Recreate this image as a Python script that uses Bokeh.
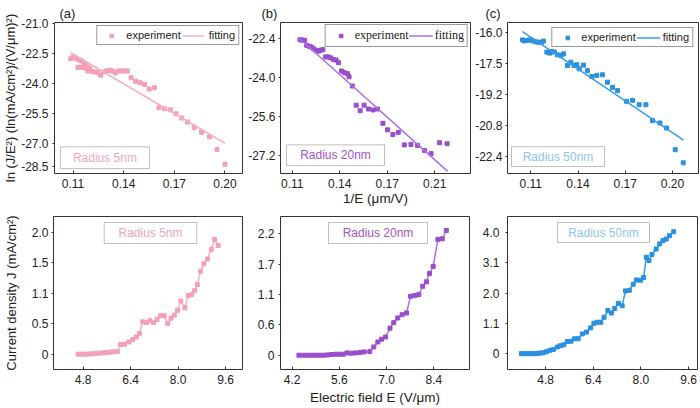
from bokeh.plotting import figure
from bokeh.layouts import row, column
from bokeh.models import (FixedTicker, BoxAnnotation, Label, Range1d, Legend,
                          LegendItem, CustomJSTickFormatter)
from bokeh.embed import file_html
from bokeh.resources import INLINE

# ---------------- data ----------------
# (a) Radius 5nm : ln(J/E^2) vs 1/E
a_inv_e = [0.1086, 0.1100, 0.1112, 0.1123, 0.1135, 0.1148, 0.1164, 0.1179,
           0.1129, 0.1145, 0.1160, 0.1174, 0.1187, 0.1199, 0.1212, 0.1228, 0.1245, 0.1264,
           0.1280, 0.1299, 0.1315, 0.1332, 0.1352, 0.1367, 0.1386, 0.1406, 0.1421,
           0.1444, 0.1470, 0.1497, 0.1524, 0.1551, 0.1582,
           0.1609, 0.1642, 0.1677, 0.1710, 0.1744, 0.1779, 0.1818, 0.1861, 0.1909, 0.1953, 0.2000]
a_ln = [-22.78, -22.70, -22.73, -22.78, -22.83, -22.88, -22.99, -23.08,
        -23.21, -23.21, -23.21, -23.24, -23.39, -23.24, -23.41, -23.44, -23.47, -23.60,
        -23.44, -23.39, -23.36, -23.39, -23.49, -23.39, -23.39, -23.39, -23.39,
        -23.73, -23.90, -23.98, -24.06, -24.29, -24.23,
        -25.22, -25.28, -25.33, -25.53, -25.74, -25.94, -26.21, -26.45, -26.68, -27.31, -28.05]
a_fit_x = [0.1086, 0.2000]
a_fit_y = [-22.48, -27.00]

# (b) Radius 20nm
b_inv_e = [0.1149, 0.1163, 0.1178, 0.1191, 0.1208, 0.1223, 0.1237, 0.1252, 0.1267, 0.1280,
           0.1294, 0.1311, 0.1328, 0.1343, 0.1360, 0.1377, 0.1392, 0.1411, 0.1430, 0.1449,
           0.1459, 0.1480, 0.1504, 0.1529, 0.1554, 0.1582, 0.1611, 0.1639, 0.1673, 0.1702,
           0.1736, 0.1770, 0.1808, 0.1850, 0.1892, 0.1935, 0.1977, 0.2030, 0.2078]
b_ln = [-22.43, -22.45, -22.45, -22.66, -22.70, -22.74, -22.81, -22.88, -22.90, -22.86,
        -22.84, -23.14, -23.14, -23.18, -23.25, -23.27, -23.38, -23.72, -23.79, -23.83,
        -23.96, -24.34, -25.13, -25.36, -25.13, -25.29, -25.33, -25.29, -25.88, -26.15,
        -26.34, -26.25, -26.77, -26.75, -26.79, -27.00, -27.13, -26.68, -26.72]
b_fit_x = [0.1142, 0.2082]
b_fit_y = [-22.36, -27.86]

# (c) Radius 50nm
c_inv_e = [0.1047, 0.1060, 0.1072, 0.1087, 0.1100, 0.1115, 0.1132, 0.1149, 0.1166, 0.1180,
           0.1202, 0.1219, 0.1233, 0.1250, 0.1269, 0.1291, 0.1308,
           0.1333, 0.1354, 0.1375, 0.1392, 0.1407, 0.1435, 0.1460, 0.1488, 0.1519, 0.1555,
           0.1587, 0.1619, 0.1651,
           0.1708, 0.1746, 0.1788, 0.1831, 0.1873, 0.1920, 0.1962, 0.2017, 0.2068]
c_ln = [-16.40, -16.45, -16.43, -16.41, -16.40, -16.45, -16.50, -16.52, -16.53, -16.46,
        -17.03, -17.08, -17.00, -17.03, -17.17, -17.20, -17.12,
        -17.72, -17.55, -17.72, -17.68, -17.89, -17.70, -17.99, -18.29, -18.23, -18.20,
        -18.58, -18.85, -19.02,
        -19.57, -19.52, -19.75, -19.75, -20.57, -20.69, -20.95, -22.07, -22.75]
c_fit_x = [0.1047, 0.2070]
c_fit_y = [-15.97, -21.58]

# (d) J vs E, Radius 5nm
d_e = [4.63, 4.76, 4.89, 5.02, 5.15, 5.28, 5.41, 5.54, 5.67, 5.80, 5.95,
       6.06, 6.195, 6.34, 6.47, 6.59, 6.70, 6.81, 6.94, 7.05, 7.17, 7.29, 7.40, 7.53,
       7.65, 7.76, 7.87, 7.98,
       8.09, 8.23, 8.34, 8.46, 8.56, 8.65, 8.76, 8.87, 8.99, 9.12, 9.23, 9.35]
d_j = [0.0, 0.0, 0.0, 0.005, 0.01, 0.015, 0.02, 0.025, 0.03, 0.038, 0.045,
       0.158, 0.163, 0.20, 0.24, 0.28, 0.34, 0.53, 0.52, 0.55, 0.52, 0.57, 0.63, 0.63,
       0.50, 0.59, 0.64, 0.72,
       0.87, 0.76, 0.96, 0.98, 1.04, 1.14, 1.36, 1.48, 1.56, 1.72, 1.88, 1.78]

# (e) Radius 20nm
e_e = [4.40, 4.53, 4.645, 4.77, 4.90, 5.02, 5.14,
       5.26, 5.37, 5.49, 5.60, 5.71, 5.83, 5.95, 6.08, 6.21, 6.33, 6.50,
       6.62, 6.74, 6.85, 6.97, 7.10, 7.21, 7.33, 7.46, 7.59,
       7.71, 7.84, 7.955, 8.07, 8.18, 8.27, 8.38, 8.52, 8.65, 8.77]
e_j = [0, 0, 0, 0, 0, 0, 0,
       0.006, 0.012, 0.018, 0.018, 0.018, 0.042, 0.036, 0.042, 0.048, 0.06, 0.066,
       0.15, 0.24, 0.29, 0.33, 0.49, 0.59, 0.675, 0.735, 0.765,
       1.07, 1.085, 1.10, 1.25, 1.33, 1.48, 1.61, 2.10, 2.11, 2.26]

# (f) Radius 50nm
f_e = [3.985, 4.075, 4.164, 4.253, 4.342, 4.43,
       4.543, 4.633, 4.72, 4.83, 4.945,
       5.057, 5.19, 5.30, 5.41, 5.525, 5.65, 5.77, 5.89,
       6.03, 6.17, 6.31, 6.42, 6.53, 6.65, 6.76, 6.89,
       7.01, 7.12, 7.24, 7.37, 7.48, 7.61, 7.74, 7.85, 7.98,
       8.09, 8.18, 8.27, 8.37, 8.51, 8.63, 8.74, 8.85, 8.96, 9.10]
f_j = [0, 0, 0, 0, 0, 0,
       0.01, 0.02, 0.03, 0.065, 0.11,
       0.14, 0.22, 0.26, 0.29, 0.40, 0.41, 0.49, 0.49,
       0.65, 0.71, 0.85, 1.00, 1.035, 1.035, 1.20, 1.42,
       1.34, 1.49, 1.66, 1.58, 2.07, 2.09, 2.29, 2.43, 2.42,
       2.51, 3.18, 3.07, 3.27, 3.45, 3.62, 3.73, 3.78, 3.89, 4.02]

# tick positions and printed labels
a_xticks, a_xlabels = [0.11, 0.14, 0.17, 0.20], ["0.11", "0.14", "0.17", "0.20"]
a_yticks, a_ylabels = [-21.0, -22.5, -24.0, -25.5, -27.0, -28.15], ["-21.0", "-22.5", "-24.0", "-25.5", "-27.0", "-28.5"]
b_xticks, b_xlabels = [0.11, 0.14, 0.17, 0.20], ["0.11", "0.14", "0.17", "0.21"]
b_yticks, b_ylabels = [-22.4, -24.0, -25.6, -27.2], ["-22.4", "-24.0", "-25.6", "-27.2"]
c_xticks, c_xlabels = [0.11, 0.14, 0.17, 0.20], ["0.11", "0.14", "0.17", "0.20"]
c_yticks, c_ylabels = [-16.0, -17.6, -19.2, -20.8, -22.4], ["-16.0", "-17.5", "-19.2", "-20.8", "-22.4"]
d_xticks, d_xlabels = [4.8, 6.4, 8.0, 9.6], ["4.8", "6.4", "8.0", "9.6"]
d_yticks, d_ylabels = [0.0, 0.5, 1.0, 1.5, 2.0], ["0", "0.5", "1.1", "1.5", "2.0"]
e_xticks, e_xlabels = [4.2, 5.6, 7.0, 8.4], ["4.2", "5.6", "7.0", "8.4"]
e_yticks, e_ylabels = [0.0, 0.55, 1.1, 1.65, 2.2], ["0", "0.6", "1.1", "1.7", "2.2"]
f_xticks, f_xlabels = [4.8, 6.4, 8.0, 9.6], ["4.8", "6.4", "8.0", "9.6"]
f_yticks, f_ylabels = [0.0, 1.0, 2.0, 3.0, 4.0], ["0", "1.1", "2.0", "3.1", "4.0"]

radius_labels = ["Radius 5nm", "Radius 20nm", "Radius 50nm"]

# ---------------- styling ----------------
FONT = "Liberation Sans"
SERIF = "Liberation Serif"
INK = "#333333"
PINK_M, PINK_L, PINK_T = "#F4A0B6", "#F6B2C3", "#F2A5BA"
PURP_M, PURP_L, PURP_T = "#9A4ECC", "#B06FE6", "#A452D0"
BLUE_M, BLUE_L, BLUE_T = "#2A90E0", "#3C9BE6", "#8EC5F2"


def fmt(vals, labs):
    return CustomJSTickFormatter(args=dict(vals=list(vals), labs=list(labs)), code="""
        for (let i = 0; i < vals.length; i++) {
            if (Math.abs(tick - vals[i]) < 1e-9) { return labs[i]; }
        }
        return String(tick);
    """)


def make_fig(size, borders, xr, yr, xt, xl, yt, yl, ystand=3):
    w, h = size
    bl, br, bt, bb = borders
    p = figure(width=w, height=h, output_backend="svg", toolbar_location=None,
               x_range=Range1d(*xr), y_range=Range1d(*yr),
               min_border_left=bl, min_border_right=br,
               min_border_top=bt, min_border_bottom=bb,
               background_fill_color="white", border_fill_color="white")
    p.outline_line_color = INK
    p.outline_line_width = 1
    p.xgrid.visible = False
    p.ygrid.visible = False
    for ax in (p.xaxis[0], p.yaxis[0]):
        ax.axis_line_color = None
        ax.major_tick_line_color = INK
        ax.minor_tick_line_color = None
        ax.major_label_text_font = FONT
        ax.major_label_text_font_size = "12px"
        ax.major_label_text_color = "#222222"
        ax.axis_label_text_font = FONT
        ax.axis_label_text_font_style = "normal"
        ax.axis_label_text_font_size = "13px"
        ax.axis_label_text_color = "#222222"
    xa, ya = p.xaxis[0], p.yaxis[0]
    xa.ticker = FixedTicker(ticks=xt)
    xa.formatter = fmt(xt, xl)
    xa.major_tick_in = 3
    xa.major_tick_out = 0
    xa.major_label_standoff = 5
    ya.ticker = FixedTicker(ticks=yt)
    ya.formatter = fmt(yt, yl)
    ya.major_tick_in = 0
    ya.major_tick_out = 2
    ya.major_label_standoff = ystand
    return p


def frame_box(p, size, borders, box, text, color):
    w, h = size
    bl, br, bt, bb = borders
    W, H = w - bl - br, h - bt - bb
    xr = (p.x_range.start, p.x_range.end)
    yr = (p.y_range.start, p.y_range.end)
    l, r, t, b = box
    X = lambda px: xr[0] + (xr[1] - xr[0]) * px / W
    Y = lambda py: yr[1] - (yr[1] - yr[0]) * py / H
    p.add_layout(BoxAnnotation(left=X(l), right=X(r), top=Y(t), bottom=Y(b),
                               fill_color="white", fill_alpha=1.0,
                               line_color=INK, line_width=1, level="annotation"))
    p.add_layout(Label(x=X((l + r) / 2), y=Y((t + b) / 2), text=text,
                       text_align="center", text_baseline="middle",
                       text_font=FONT, text_font_size="12px", text_color=color))


def add_title(p, text, offset):
    p.title.text = text
    p.title.align = "left"
    p.title.offset = offset
    p.title.standoff = 4
    p.title.text_font = FONT
    p.title.text_font_size = "13px"
    p.title.text_font_style = "normal"
    p.title.text_color = "#222222"


def add_legend(p, r1, r2, font, fsize, gw, stand, spacing, margin):
    lg = Legend(items=[LegendItem(label="experiment", renderers=[r1]),
                       LegendItem(label="fitting", renderers=[r2])],
                orientation="horizontal", location="top_right",
                label_text_font=font, label_text_font_size=fsize,
                label_text_color="#222222",
                glyph_width=gw, glyph_height=9, label_height=9,
                label_standoff=stand, spacing=spacing, padding=3, margin=margin,
                border_line_color=INK, border_line_width=1,
                background_fill_color="white", background_fill_alpha=1.0)
    p.add_layout(lg)


# ---------------- top row ----------------
SA, BA = (244, 211), (50, 2, 20, 38)
pa = make_fig(SA, BA, (0.099, 0.2104), (-28.51, -20.97), a_xticks, a_xlabels, a_yticks, a_ylabels, ystand=4)
pa.yaxis[0].axis_label = "ln (J/E\u00b2) (ln(mA/cm\u00b2)/(V/\u03bcm)\u00b2)"
pa.yaxis[0].axis_label_standoff = 0
add_title(pa, "(a)", 5)
ra1 = pa.scatter(a_inv_e, a_ln, marker="square", size=4, color=PINK_M)
ra2 = pa.line(a_fit_x, a_fit_y, line_color=PINK_L, line_width=1.5)
add_legend(pa, ra1, ra2, FONT, "11px", 22, 4, 2, 3)
frame_box(pa, SA, BA, (6, 97, 126, 148), radius_labels[0], PINK_T)

SB, BB = (228, 211), (36, 2, 22, 36)
pb = make_fig(SB, BB, (0.1026, 0.2226), (-27.95, -21.72), b_xticks, b_xlabels, b_yticks, b_ylabels, ystand=3)
pb.xaxis[0].axis_label = "1/E (\u03bcm/V)"
pb.xaxis[0].axis_label_standoff = 0
pb.xaxis[0].axis_label_text_font_size = "13.5px"
add_title(pb, "(b)", -19)
rb1 = pb.scatter(b_inv_e, b_ln, marker="square", size=4, color=PURP_M)
rb2 = pb.line(b_fit_x, b_fit_y, line_color=PURP_L, line_width=1.5)
add_legend(pb, rb1, rb2, SERIF, "12px", 24, 2, 0, 2)
frame_box(pb, SB, BB, (6, 104, 124, 145), radius_labels[1], PURP_T)

SC, BC = (228, 211), (35, 2, 22, 37)
pc = make_fig(SC, BC, (0.0952, 0.2165), (-23.30, -15.50), c_xticks, c_xlabels, c_yticks, c_ylabels, ystand=3)
add_title(pc, "(c)", -22)
rc1 = pc.scatter(c_inv_e, c_ln, marker="square", size=4, color=BLUE_M)
rc2 = pc.line(c_fit_x, c_fit_y, line_color=BLUE_L, line_width=1.5)
add_legend(pc, rc1, rc2, FONT, "11px", 24, 2, 1, 5)
frame_box(pc, SC, BC, (4, 97, 125, 145), radius_labels[2], BLUE_T)

# ---------------- bottom row ----------------
SD, BD = (244, 197), (52, 2, 5, 39)
pd_ = make_fig(SD, BD, (3.80, 10.17), (-0.251, 2.256), d_xticks, d_xlabels, d_yticks, d_ylabels, ystand=3)
pd_.yaxis[0].axis_label = "Current density J (mA/cm\u00b2)"
pd_.yaxis[0].axis_label_standoff = 10
pd_.line(d_e, d_j, line_color=PINK_L, line_width=1.5)
pd_.scatter(d_e, d_j, marker="square", size=4, color=PINK_M)
frame_box(pd_, SD, BD, (51, 144, 6, 27), radius_labels[0], PINK_T)

SE, BE = (227, 197), (36, 2, 5, 39)
pe = make_fig(SE, BE, (3.854, 9.457), (-0.259, 2.514), e_xticks, e_xlabels, e_yticks, e_ylabels, ystand=4)
pe.xaxis[0].axis_label = "Electric field E (V/\u03bcm)"
pe.xaxis[0].axis_label_standoff = 3
pe.xaxis[0].axis_label_text_font_size = "13.5px"
pe.line(e_e, e_j, line_color=PURP_L, line_width=1.5)
pe.scatter(e_e, e_j, marker="square", size=4, color=PURP_M)
frame_box(pe, SE, BE, (48, 147, 6, 27), radius_labels[1], PURP_T)

SF, BF = (229, 197), (36, 3, 5, 39)
pf = make_fig(SF, BF, (3.517, 9.90), (-0.523, 4.523), f_xticks, f_xlabels, f_yticks, f_ylabels, ystand=6)
pf.line(f_e, f_j, line_color=BLUE_L, line_width=1.5)
pf.scatter(f_e, f_j, marker="square", size=4, color=BLUE_M)
frame_box(pf, SF, BF, (50, 142, 6, 26), radius_labels[2], BLUE_T)

layout = column(row(pa, pb, pc), row(pd_, pe, pf))
open("out.html", "w").write(file_html(layout, INLINE))
